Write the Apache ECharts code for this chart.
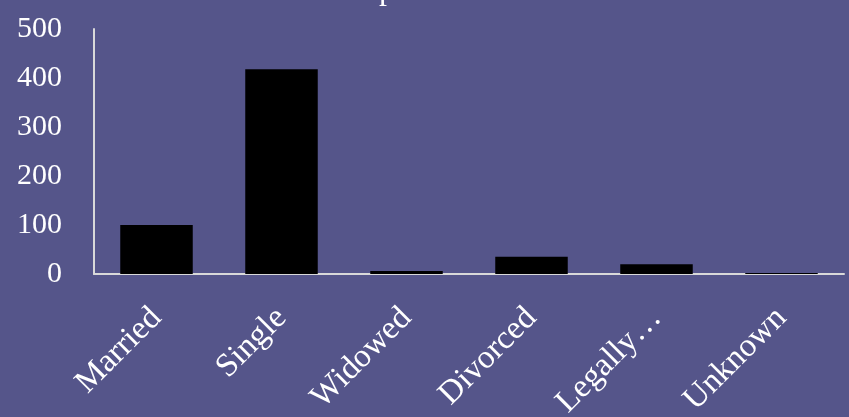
<!DOCTYPE html>
<html>
<head>
<meta charset="utf-8">
<script src="https://cdn.jsdelivr.net/npm/echarts@6/dist/echarts.min.js"></script>
<style>html,body{margin:0;padding:0;background:#55558a;}#c{width:849px;height:417px;}</style>
</head>
<body>
<div id="c"></div>
<script>
const categories = ['Married', 'Single', 'Widowed', 'Divorced', 'Legally…', 'Unknown'];
const counts = [100, 418, 6, 35, 20, 2];
const yTicks = { min: 0, max: 500, interval: 100 };
const titleText = 'p';

const chart = echarts.init(document.getElementById('c'));
const serif = '"Liberation Serif", "DejaVu Serif", serif';
chart.setOption({
  backgroundColor: '#55558a',
  animation: false,
  title: {
    text: titleText, left: 374, top: -30,
    textStyle: { color: '#ffffff', fontFamily: serif, fontSize: 32, fontWeight: 'normal' }
  },
  grid: { left: 94, right: 5, top: 29, bottom: 143, containLabel: false, outerBoundsMode: 'none' },
  xAxis: {
    type: 'category', data: categories,
    axisLine: { show: true, lineStyle: { color: '#d9d9d9', width: 2 } },
    axisTick: { show: false },
    axisLabel: {
      show: true, rotate: 45, margin: 39, interval: 0,
      color: '#ffffff', fontFamily: serif, fontSize: 33
    }
  },
  yAxis: {
    type: 'value', min: yTicks.min, max: yTicks.max, interval: yTicks.interval,
    axisLine: { show: true, lineStyle: { color: '#d9d9d9', width: 2 } },
    axisTick: { show: false },
    splitLine: { show: false },
    axisLabel: { color: '#ffffff', fontFamily: serif, fontSize: 30, margin: 32 }
  },
  series: [{
    type: 'bar', data: counts,
    barCategoryGap: '42%',
    itemStyle: { color: '#000000' }
  }]
});
</script>
</body>
</html>
